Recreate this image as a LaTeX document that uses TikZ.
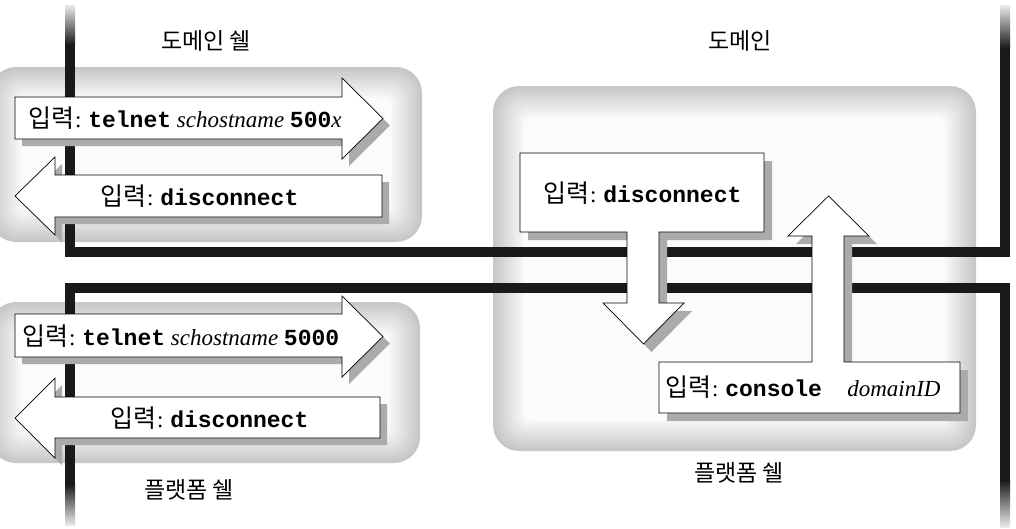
\documentclass[tikz,border=0pt]{standalone}
\usepackage{fontspec}
\setmainfont{Liberation Serif}
\setmonofont{Liberation Mono}
\newfontfamily\kor{Noto Sans CJK KR}
\usetikzlibrary{positioning}
\newcommand{\cmd}[1]{{\ttfamily\bfseries #1}}
\newcommand{\ipt}{{\kor\fontsize{25}{26}\selectfont 입력}\kern1pt:\kern1pt\ }
\newcommand{\softbox}[4]{%
  \foreach \k in {0,...,12}{%
    \pgfmathsetmacro{\g}{22-1.7*\k}%
    \pgfmathsetmacro{\d}{2.6*\k}%
    \pgfmathsetmacro{\r}{max(26-1.6*\k,6)}%
    \fill[black!\g, rounded corners=\r pt] (#1+\d,#2+\d) rectangle (#3-\d,#4-\d);
  }}
\newcommand{\plank}[2][7]{\fill[cast, shift={(#1,#1)}] #2; \draw[card] #2;}
\tikzstyle{card} = [fill=white, draw=black, line width=0.7pt, line join=miter]
\tikzstyle{cast} = [fill=black!33]
\tikzstyle{rail} = [line width=10pt, black!90]
\tikzstyle{say}  = [inner sep=0pt, anchor=west, font=\fontsize{23}{26}\selectfont]
\tikzstyle{zone} = [inner sep=0pt, font=\kor\fontsize{23}{26}\selectfont]

\begin{document}
\begin{tikzpicture}[x=1pt, y=-1pt]
\useasboundingbox (0,0) rectangle (1016,528);

% Background panels
\softbox{-10}{67}{422}{242}
\softbox{-10}{302}{420}{463}
\softbox{493}{86}{976}{451}

% Rails
\draw[rail] (70,45) -- (70,252) -- (1005,252) -- (1005,48);
\draw[rail] (70,484) -- (70,288) -- (1005,288) -- (1005,480);
\shade[top color=black!8, bottom color=black!90] (65,5) rectangle (75,45);
\shade[top color=black!8, bottom color=black!90] (1000,5) rectangle (1010,48);
\shade[top color=black!90, bottom color=black!8] (65,484) rectangle (75,525);
\shade[top color=black!90, bottom color=black!8] (1000,480) rectangle (1010,527);

% Arrows, domain shell
\plank{(15,97) -- (342,97) -- (342,78) -- (383,118.5) -- (342,159) -- (342,139) -- (15,139) -- cycle}
\plank{(382,175) -- (55,175) -- (55,157) -- (15,196) -- (55,235) -- (55,217) -- (382,217) -- cycle}

% Arrows, platform shell
\plank{(15,314) -- (342,314) -- (342,296) -- (383,336.5) -- (342,377) -- (342,357) -- (15,357) -- cycle}
\plank{(380,397) -- (55,397) -- (55,378) -- (15,418) -- (55,458) -- (55,438) -- (380,438) -- cycle}

% Arrows, domain
\plank[8]{(520,153) -- (764,153) -- (764,232) -- (659,232) -- (659,303) -- (684,303) -- (643.5,344) -- (603,303) -- (627,303) -- (627,232) -- (520,232) -- cycle}
\plank[8]{(659,362) -- (812,362) -- (812,236) -- (788,236) -- (828.5,196) -- (869,236) -- (844,236) -- (844,362) -- (960,362) -- (960,413) -- (659,413) -- cycle}

% Texts
\node[say] (tel1) at (28,118)  {\ipt\cmd{telnet} \textit{schostname} \cmd{500}\textit{x}};
\node[say] (dis1) at (100,196) {\ipt\cmd{disconnect}};
\node[say] (tel2) at (22,336)  {\ipt\cmd{telnet} \textit{schostname} \cmd{5000}};
\node[say] (dis2) at (110,418) {\ipt\cmd{disconnect}};
\node[say] (dis3) at (543,193) {\ipt\cmd{disconnect}};
\node[say] (con)  at (665,387) {\ipt\cmd{console}\hspace{1.1em}\textit{domainID}};

% Labels
\node[zone] (dsh) at (206,41)  {도메인 쉘};
\node[zone] (dom) at (740,41)  {도메인};
\node[zone] (psh) at (189,490) {플랫폼 쉘};
\node[zone] (pdm) at (739,473) {플랫폼 쉘};

\end{tikzpicture}
\end{document}
